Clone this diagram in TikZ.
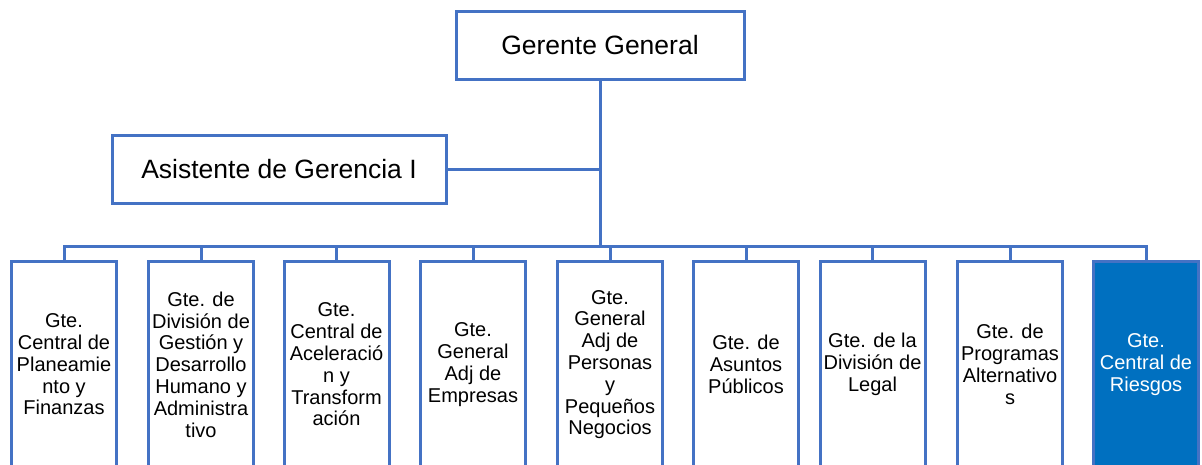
\documentclass[tikz,border=0pt]{standalone}
\usepackage{fontspec}
\setmainfont{Liberation Sans}
\definecolor{lineblue}{HTML}{4472C4}
\definecolor{fillblue}{HTML}{0070C0}
\begin{document}
\begin{tikzpicture}[x=1pt,y=-1pt,
  topbox/.style={draw=lineblue,line width=3pt,fill=white,inner sep=0pt,
    font=\fontsize{26.5}{30}\selectfont},
  unitbox/.style={draw=lineblue,line width=3pt,fill=white,inner sep=0pt,
    minimum width=105pt,minimum height=207pt,align=center,
    font=\fontsize{20}{21.8}\selectfont},
  hibox/.style={unitbox,fill=fillblue,text=white},
  conn/.style={draw=lineblue,line width=3pt}]
\useasboundingbox (0,0) rectangle (1202,464);
\clip (0,0) rectangle (1202,464);
\fill[white] (0,0) rectangle (1202,464);
\node[topbox,minimum width=288pt,minimum height=68pt] (gg) at (600,45) {Gerente General};
\node[topbox,minimum width=334pt,minimum height=68pt] (asis) at (279,169) {Asistente de Gerencia I};
\coordinate (bus) at (600,246);
\node[unitbox] (b1) at (64,364.5) {Gte.\\Central de\\Planeamie\\nto y\\Finanzas};
\node[unitbox] (b2) at (201,364.5) {Gte. de\\División de\\Gestión y\\Desarrollo\\Humano y\\Administra\\tivo};
\node[unitbox] (b3) at (336.5,364.5) {Gte.\\Central de\\Aceleració\\n y\\Transform\\ación};
\node[unitbox] (b4) at (473,364.5) {Gte.\\General\\Adj de\\Empresas};
\node[unitbox] (b5) at (610,364.5) {Gte.\\General\\Adj de\\Personas\\y\\Pequeños\\Negocios};
\node[unitbox] (b6) at (746,364.5) {Gte. de\\Asuntos\\Públicos};
\node[unitbox] (b7) at (872.5,364.5) {Gte. de la\\División de\\Legal};
\node[unitbox] (b8) at (1010,364.5) {Gte. de\\Programas\\Alternativo\\s};
\node[hibox] (b9) at (1146,364.5) {Gte.\\Central de\\Riesgos};
\draw[conn] (gg.south) -- (bus);
\draw[conn] (asis.east) -- (asis.east -| gg.south);
\draw[conn,line cap=rect] (b1.north |- bus) -- (b9.north |- bus);
\foreach \b in {b1,b2,b3,b4,b5,b6,b7,b8,b9}
  \draw[conn] (\b.north |- bus) -- (\b.north);
\end{tikzpicture}
\end{document}
